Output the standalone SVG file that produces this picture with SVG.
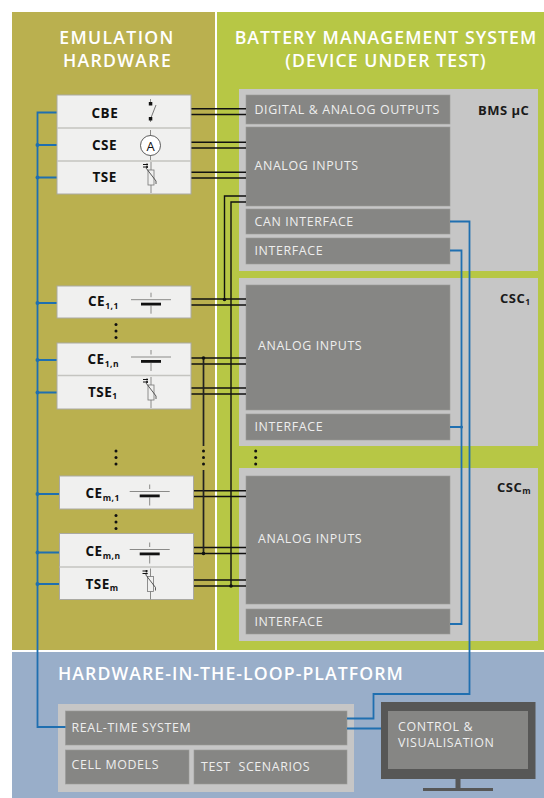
<svg xmlns="http://www.w3.org/2000/svg" xmlns:xlink="http://www.w3.org/1999/xlink" width="544" height="798" viewBox="0 0 544 798">
<style>
text{font-family:"Open Sans","Noto Sans","Liberation Sans",sans-serif}
.title{font-size:17.7px;font-weight:600;fill:#fff;letter-spacing:1.05px;text-anchor:middle}
.wide{letter-spacing:1.3px}
.lab{font-size:12.4px;fill:#eee;letter-spacing:.62px}
.nl{font-size:13.5px;font-weight:700;fill:#111;letter-spacing:.5px}
.sub{font-size:8.5px}
.csc{font-size:13px;font-weight:700;fill:#1a1a1a;letter-spacing:.5px}
.dark{fill:#868684;stroke:#9a9a98;stroke-width:.6}
.grey{fill:#c6c6c6}
.cell{fill:#f0f0ef;stroke:#aaa9a2;stroke-width:1}
.sep{stroke:#c4c4c0;stroke-width:1.4;fill:none}
.blue{fill:none;stroke:#1f6fb0;stroke-width:1.8}
.blk{fill:none;stroke:#111;stroke-width:1.4}
.blk2{fill:none;stroke:#222;stroke-width:1.7}
.sym{fill:none;stroke:#8a8a88;stroke-width:1}
</style>
<defs>
<g id="batt"><path d="M-20 0H20M0 -7V-2.500M0 6V14" class="sym"/><rect x="-10" y="3" width="20" height="2.800" fill="#111"/></g>
<g id="therm"><path d="M0 -10V-2M0 13V21" class="sym"/><rect x="-3" y="-2" width="6" height="15" fill="none" stroke="#777" stroke-width=".8"/><path d="M-5 -4L5 9V12" fill="none" stroke="#333" stroke-width=".8"/><path d="M-8 -7.500H-3M-8 -5H-3" stroke="#111" stroke-width="1"/><circle cx="-4" cy="-7.500" r="1" fill="#111"/><circle cx="-4" cy="-5" r="1" fill="#111"/></g>
<circle id="d" r="1.500" fill="#111"/>
<g id="vd"><use xlink:href="#d" href="#d" y="0"/><use xlink:href="#d" href="#d" y="6.500"/><use xlink:href="#d" href="#d" y="13"/></g>
</defs>
<rect width="544" height="798" fill="#fff"/>
<rect x="12" y="12" width="203" height="638" fill="#bab04f"/>
<rect x="217" y="12" width="327" height="638" fill="#b7c745"/>
<rect x="12" y="652" width="532" height="146" fill="#99aec9"/>
<g id="titles">
<text class="title wide" x="117" y="44">EMULATION</text>
<text class="title wide" x="117.500" y="67">HARDWARE</text>
<text class="title" x="386" y="44">BATTERY MANAGEMENT SYSTEM</text>
<text class="title" x="386" y="67">(DEVICE UNDER TEST)</text>
<text class="title" x="58" y="680" style="text-anchor:start">HARDWARE-IN-THE-LOOP-PLATFORM</text>
</g>
<g id="bms">
<rect class="grey" x="239" y="89" width="299" height="182"/>
<text class="csc" x="478" y="115">BMS µC</text>
<rect class="dark" x="246" y="95" width="204" height="29"/>
<text class="lab" x="254.500" y="114">DIGITAL &amp; ANALOG OUTPUTS</text>
<rect class="dark" x="246" y="127" width="204" height="79"/>
<text class="lab" x="254.500" y="170">ANALOG INPUTS</text>
<rect class="dark" x="246" y="209" width="204" height="25"/>
<text class="lab" x="254.500" y="226">CAN INTERFACE</text>
<rect class="dark" x="246" y="238" width="204" height="26"/>
<text class="lab" x="254.500" y="255">INTERFACE</text>
</g>
<g id="csc1">
<rect class="grey" x="239" y="278" width="299" height="168"/>
<text class="csc" x="500" y="303">CSC<tspan class="sub" dy="2">1</tspan></text>
<rect class="dark" x="246" y="285" width="204" height="125"/>
<text class="lab" x="258" y="350">ANALOG INPUTS</text>
<rect class="dark" x="246" y="414" width="204" height="26"/>
<text class="lab" x="254.500" y="431">INTERFACE</text>
</g>
<g id="cscm">
<rect class="grey" x="239" y="468" width="299" height="173"/>
<text class="csc" x="497" y="492">CSC<tspan class="sub" dy="2">m</tspan></text>
<rect class="dark" x="246" y="476" width="204" height="128"/>
<text class="lab" x="258" y="543">ANALOG INPUTS</text>
<rect class="dark" x="246" y="609" width="204" height="25"/>
<text class="lab" x="254.500" y="626">INTERFACE</text>
</g>
<g id="hil">
<rect class="grey" x="58" y="704" width="296" height="88"/>
<rect class="dark" x="65.500" y="711" width="281.500" height="34"/>
<text class="lab" x="71.500" y="732">REAL-TIME SYSTEM</text>
<rect class="dark" x="65.500" y="750" width="123.500" height="34"/>
<text class="lab" x="71.500" y="769">CELL MODELS</text>
<rect class="dark" x="194" y="750" width="153" height="34"/>
<text class="lab" x="201" y="771" xml:space="preserve">TEST  SCENARIOS</text>
</g>
<g id="monitor">
<rect x="381" y="702" width="154.500" height="77" fill="#575756"/>
<rect x="388" y="711" width="140" height="58" fill="#868684"/>
<rect x="455.500" y="779" width="5" height="9" fill="#575756"/>
<rect x="423" y="788" width="70" height="3" fill="#575756"/>
<text class="lab" x="398" y="731">CONTROL &amp;</text>
<text class="lab" x="398" y="747">VISUALISATION</text>
</g>
<g id="connectors">
<path class="blue" d="M57 112.500H37.500V727H65.500M37.500 145H57M37.500 177.500H57M37.500 303H57M37.500 360H57M37.500 392.500H57M37.500 494H59M37.500 552.500H59M37.500 584H59"/>
<g fill="#1f6fb0"><circle cx="37.500" cy="145" r="2"/><circle cx="37.500" cy="177.500" r="2"/><circle cx="37.500" cy="303" r="2"/><circle cx="37.500" cy="360" r="2"/><circle cx="37.500" cy="392.500" r="2"/><circle cx="37.500" cy="494" r="2"/><circle cx="37.500" cy="552.500" r="2"/><circle cx="37.500" cy="584" r="2"/><circle cx="461.500" cy="427" r="1.500"/></g>
<path class="blue" d="M450 221.500H469.500V694H373.500V718.500H347M450 250.500H461.500V624H450M461.500 427H450M347 728.500H381"/>
<path class="blk" d="M191 108.700H246M191 114.500H246M191 142.300H246M191 148H246M191 172.300H246M191 178H246M191 299H246M191 305H246M191 358H246M191 364H246M191 388H246M191 394H246M193 490.700H246M193 496.500H246M193 547.500H246M193 553.500H246M193 580H246M193 586H246M246 196H224.500V299M246 202H231V586"/>
<path class="blk2" d="M203.500 358V446M203.500 470V553.500"/>
<g fill="#111"><circle cx="224.500" cy="299.500" r="1.800"/><circle cx="231" cy="586" r="1.800"/><circle cx="203.500" cy="358" r="1.800"/><circle cx="203.500" cy="553.500" r="1.800"/></g>
</g>
<g id="node-cbe">
<rect class="cell" x="57" y="95" width="134" height="99"/>
<path class="sep" d="M57 128H191M57 161H191"/>
<text class="nl" x="91.500" y="117.500">CBE</text>
<path class="sym" d="M150.500 99V103M150.500 118V122" />
<path d="M150.500 119L156 105" fill="none" stroke="#555" stroke-width=".8"/>
<rect x="148.800" y="102" width="3.500" height="3.500" fill="#111"/><rect x="148.800" y="117" width="3.500" height="3.500" fill="#111"/>
</g>
<g id="node-cse">
<text class="nl" x="92" y="149.500">CSE</text>
<path class="sym" d="M150.500 130V160"/>
<circle cx="150.500" cy="145.500" r="10" fill="#fff" stroke="#333" stroke-width=".8"/>
<text x="150.500" y="150.500" font-size="13" fill="#111" text-anchor="middle">A</text>
</g>
<g id="node-tse">
<text class="nl" x="92.500" y="182">TSE</text>
<use xlink:href="#therm" href="#therm" x="151" y="172"/>
</g>
<g id="node-ce11">
<rect class="cell" x="57" y="286" width="134" height="32"/>
<text class="nl" x="88" y="306">CE<tspan class="sub" dy="3">1,1</tspan></text>
<use xlink:href="#batt" href="#batt" x="151" y="299.700"/>
</g>
<g id="node-ce1n">
<rect class="cell" x="57" y="343" width="134" height="66"/>
<path class="sep" d="M57 375.500H191"/>
<text class="nl" x="87.500" y="364">CE<tspan class="sub" dy="3">1,n</tspan></text>
<use xlink:href="#batt" href="#batt" x="151" y="357"/>
</g>
<g id="node-tse1">
<text class="nl" x="88" y="397">TSE<tspan class="sub" dy="1.500">1</tspan></text>
<use xlink:href="#therm" href="#therm" x="151" y="387"/>
</g>
<g id="node-cem1">
<rect class="cell" x="59.500" y="476" width="134" height="33"/>
<text class="nl" x="85.500" y="498">CE<tspan class="sub" dy="2.500">m,1</tspan></text>
<use xlink:href="#batt" href="#batt" x="149.700" y="491.500"/>
</g>
<g id="node-cemn">
<rect class="cell" x="59.500" y="533.500" width="134" height="66"/>
<path class="sep" d="M59.500 567H193.500"/>
<text class="nl" x="85.500" y="556">CE<tspan class="sub" dy="2.500">m,n</tspan></text>
<use xlink:href="#batt" href="#batt" x="149.700" y="549.500"/>
</g>
<g id="node-tsem">
<text class="nl" x="85.500" y="589">TSE<tspan class="sub" dy="1.500">m</tspan></text>
<use xlink:href="#therm" href="#therm" x="150.500" y="578.500"/>
</g>
<g id="ellipses">
<use xlink:href="#vd" href="#vd" x="116" y="324.500"/>
<use xlink:href="#vd" href="#vd" x="116" y="451"/>
<use xlink:href="#vd" href="#vd" x="203.500" y="451"/>
<use xlink:href="#vd" href="#vd" x="255.700" y="451"/>
<use xlink:href="#vd" href="#vd" x="116" y="515.500"/>
</g>
</svg>
